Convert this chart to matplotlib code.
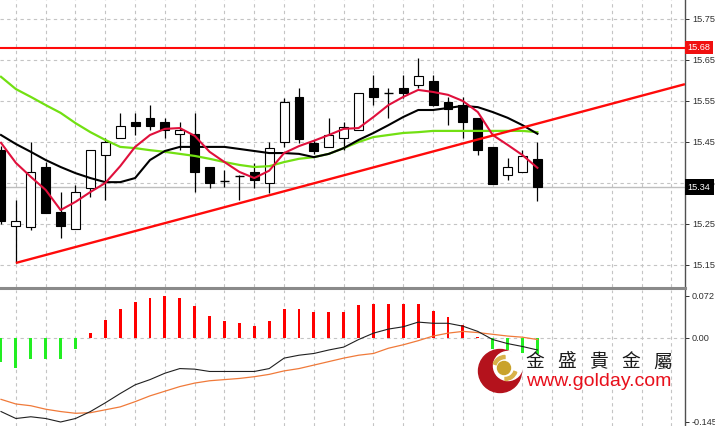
import matplotlib
matplotlib.use('Agg')
import matplotlib.pyplot as plt
from matplotlib.patches import Circle, Wedge

# ---------------- data ----------------
opens = [15.430, 15.245, 15.243, 15.389, 15.279, 15.238, 15.338, 15.418, 15.460, 15.499,
         15.509, 15.499, 15.470, 15.470, 15.389, 15.355, 15.367, 15.377, 15.350, 15.450,
         15.560, 15.448, 15.438, 15.460, 15.479, 15.582, 15.570, 15.582, 15.589, 15.599,
         15.548, 15.540, 15.509, 15.438, 15.370, 15.377, 15.409]
closes = [15.257, 15.257, 15.377, 15.277, 15.245, 15.328, 15.430, 15.450, 15.489, 15.489,
          15.489, 15.479, 15.479, 15.377, 15.350, 15.355, 15.367, 15.357, 15.435, 15.548,
          15.457, 15.428, 15.467, 15.487, 15.570, 15.560, 15.570, 15.570, 15.611, 15.540,
          15.530, 15.499, 15.430, 15.348, 15.389, 15.416, 15.340]
highs = [15.440, 15.309, 15.450, 15.401, 15.328, 15.345, 15.430, 15.460, 15.521, 15.521,
         15.540, 15.509, 15.499, 15.521, 15.389, 15.382, 15.370, 15.399, 15.450, 15.557,
         15.582, 15.455, 15.509, 15.499, 15.570, 15.613, 15.582, 15.613, 15.655, 15.613,
         15.560, 15.560, 15.509, 15.438, 15.411, 15.430, 15.450]
lows = [15.250, 15.155, 15.235, 15.277, 15.216, 15.238, 15.316, 15.309, 15.460, 15.467,
        15.479, 15.460, 15.430, 15.328, 15.338, 15.340, 15.309, 15.338, 15.326, 15.438,
        15.448, 15.420, 15.438, 15.430, 15.479, 15.540, 15.509, 15.558, 15.582, 15.538,
        15.491, 15.460, 15.418, 15.348, 15.357, 15.377, 15.306]

ma_fast = [15.448, 15.399, 15.365, 15.333, 15.284, 15.304, 15.328, 15.350, 15.391, 15.438,
           15.467, 15.482, 15.484, 15.465, 15.426, 15.401, 15.377, 15.362, 15.380, 15.423,
           15.440, 15.453, 15.467, 15.482, 15.484, 15.511, 15.540, 15.560, 15.577, 15.572,
           15.565, 15.550, 15.523, 15.467, 15.443, 15.418, 15.387]
ma_mid = [15.467, 15.445, 15.426, 15.406, 15.389, 15.374, 15.362, 15.352, 15.352, 15.362,
          15.406, 15.428, 15.438, 15.438, 15.438, 15.438, 15.433, 15.428, 15.423, 15.423,
          15.421, 15.413, 15.421, 15.435, 15.455, 15.472, 15.491, 15.511, 15.528, 15.528,
          15.533, 15.538, 15.535, 15.523, 15.509, 15.491, 15.470]
ma_slow = [15.609, 15.579, 15.560, 15.540, 15.521, 15.496, 15.474, 15.455, 15.438, 15.435,
           15.430, 15.426, 15.421, 15.416, 15.409, 15.401, 15.394, 15.389, 15.391, 15.401,
           15.409, 15.413, 15.421, 15.435, 15.450, 15.462, 15.467, 15.472, 15.474, 15.477,
           15.477, 15.477, 15.477, 15.477, 15.477, 15.477, 15.474]

trend_x = [1, 45.9]
trend_y = [15.155, 15.591]
resistance = 15.68
last_price = 15.34
price_ticks = [15.15, 15.25, 15.35, 15.45, 15.55, 15.65, 15.75]
price_tick_labels = ['15.15', '15.25', '15.35', '15.45', '15.55', '15.65', '15.75']

macd_hist = [-0.041, -0.0515, -0.0365, -0.0365, -0.0365, -0.020, 0.008, 0.031, 0.050, 0.062,
             0.069, 0.072, 0.069, 0.054, 0.0375, 0.0295, 0.025, 0.021, 0.0295, 0.050,
             0.050, 0.044, 0.044, 0.045, 0.0565, 0.059, 0.059, 0.058, 0.059, 0.046,
             0.035, 0.022, 0.002, -0.020, -0.021, -0.026, -0.028]
macd_line = [-0.127, -0.139, -0.136, -0.139, -0.145, -0.139, -0.127, -0.112, -0.096, -0.081,
             -0.072, -0.061, -0.053, -0.054, -0.058, -0.058, -0.058, -0.058, -0.053, -0.035,
             -0.030, -0.027, -0.021, -0.016, -0.003, 0.008, 0.015, 0.019, 0.027, 0.025,
             0.025, 0.020, 0.011, -0.003, -0.010, -0.015, -0.021]
macd_signal = [-0.106, -0.114, -0.117, -0.123, -0.127, -0.130, -0.129, -0.124, -0.119, -0.110,
               -0.100, -0.092, -0.084, -0.078, -0.074, -0.072, -0.070, -0.067, -0.063, -0.057,
               -0.053, -0.047, -0.041, -0.035, -0.030, -0.027, -0.018, -0.012, -0.005, 0.003,
               0.008, 0.011, 0.009, 0.006, 0.003, 0.001, -0.003]
macd_ticks = [0.072, 0.0, -0.145]
macd_tick_labels = ['0.072', '0.00', '-0.145']

brand_chars = ['金', '盛', '貴', '金', '屬']
brand_url = 'www.golday.com'

# ---------------- layout ----------------
W, H = 715, 426
fig = plt.figure(figsize=(W / 100, H / 100), dpi=100)
fig.patch.set_facecolor('white')

plot_w = 685 / W
ax = fig.add_axes([0, (H - 287) / H, plot_w, 287 / H])
axm = fig.add_axes([0, 0, plot_w, (H - 290) / H])

n = len(opens)
xs = list(range(n))
xlim = (-0.067, -0.067 + 685 / 14.9)
grid_kw = dict(color='#C4C4C4', linestyle=(0, (3, 3)), linewidth=0.8, zorder=0)
tick_font = dict(family='Liberation Sans', size=6.6)

for a in (ax, axm):
    a.set_xlim(*xlim)
    a.set_facecolor('white')
    for s in ('left', 'top', 'bottom'):
        a.spines[s].set_visible(False)
    a.spines['right'].set_color('#505050')
    a.spines['right'].set_linewidth(1.0)
    a.yaxis.tick_right()
    a.tick_params(axis='y', direction='out', length=3, width=0.7, colors='#303030', pad=2)
    a.tick_params(axis='x', bottom=False, labelbottom=False)
    for gx in range(1, int(xlim[1]) + 1, 2):
        a.axvline(gx, **grid_kw)

# ---------------- price panel ----------------
ax.set_ylim(15.0963, 15.7963)
ax.set_yticks(price_ticks)
ax.set_yticklabels(price_tick_labels, fontdict=tick_font)
for t in price_ticks:
    ax.axhline(t, **grid_kw)
ax.axhline(last_price, color='#BEBEBE', linewidth=1.0, zorder=1)

body_w = 0.6
for i in xs:
    o, h, l, c = opens[i], highs[i], lows[i], closes[i]
    ax.vlines(i, l, h, color='black', linewidth=0.9, zorder=3)
    bottom = min(o, c)
    height = abs(c - o)
    face = 'white' if c > o else 'black'
    if height < 1e-9:
        ax.hlines(o, i - body_w / 2, i + body_w / 2, color='black', linewidth=1.0, zorder=4)
    else:
        ax.bar(i, height, bottom=bottom, width=body_w, color=face, edgecolor='black',
               linewidth=0.8, zorder=4)

ax.plot(xs, ma_slow, color='#72E012', linewidth=1.6, zorder=5)
ax.plot(xs, ma_mid, color='black', linewidth=1.5, zorder=5)
ax.plot(xs, ma_fast, color='#E0103C', linewidth=1.5, zorder=6)
ax.plot(trend_x, trend_y, color='#FF0A0A', linewidth=1.7, zorder=6, solid_capstyle='butt')
ax.axhline(resistance, color='#FF0A0A', linewidth=1.5, zorder=6)

trans = ax.get_yaxis_transform()
ax.text(1.004, resistance, f'{resistance:.2f}', transform=trans, ha='left', va='center',
        color='white', fontdict=tick_font, clip_on=False, zorder=10,
        bbox=dict(boxstyle='square,pad=0.25', facecolor='#F01010', edgecolor='none'))
ax.text(1.004, last_price, f'{last_price:.2f}', transform=trans, ha='left', va='center',
        color='white', fontdict=tick_font, clip_on=False, zorder=10,
        bbox=dict(boxstyle='square,pad=0.35', facecolor='black', edgecolor='none'))

# separator
fig.add_artist(plt.Line2D([0, plot_w], [(H - 288) / H] * 2, color='#8A8A8A', linewidth=2.2))

# ---------------- MACD panel ----------------
axm.set_ylim(-0.1519, 0.0823)
axm.set_yticks(macd_ticks)
axm.set_yticklabels(macd_tick_labels, fontdict=tick_font)
axm.axhline(0, **grid_kw)
hist_colors = ['#FF0000' if v > 0 else '#22EE22' for v in macd_hist]
axm.bar(xs, macd_hist, width=0.2, color=hist_colors, zorder=3)
axm.plot(xs, macd_signal, color='#F07A3A', linewidth=0.9, zorder=4)
axm.plot(xs, macd_line, color='#202020', linewidth=0.8, zorder=5)

# ---------------- watermark ----------------
ov = fig.add_axes([0, 0, 1, 1], facecolor='none')
ov.set_xlim(0, W)
ov.set_ylim(H, 0)
ov.axis('off')
ov.add_patch(Circle((500, 371), 21.5, color='#B4121C', zorder=1))
ov.add_patch(Circle((508, 366), 14.5, color='white', zorder=2))
ov.add_patch(Wedge((505, 368), 12.5, 20, 90, width=3, color='#D9B24A', zorder=3))
ov.add_patch(Wedge((505, 368), 12.5, 200, 270, width=3, color='#D9B24A', zorder=3))
ov.add_patch(Circle((504, 368), 6.5, color='#C9A22C', zorder=4))
for k, ch in enumerate(brand_chars):
    ov.text(535 + 32 * k, 362, ch, ha='center', va='center', fontsize=13.5,
            family=['Noto Sans CJK TC', 'DejaVu Sans'], color='#1A1A1A', zorder=5)
ov.text(526, 381, brand_url, ha='left', va='center', fontsize=14,
        family='Liberation Sans', color='#E8101C', zorder=5)

fig.savefig('out.png', dpi=100)
